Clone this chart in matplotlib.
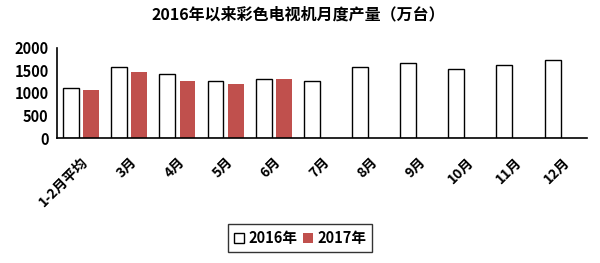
import numpy as np
import matplotlib
matplotlib.use('Agg')
import matplotlib.pyplot as plt

plt.rcParams['font.family'] = ['Noto Sans CJK SC', 'DejaVu Sans']

months = ['1-2月平均', '3月', '4月', '5月', '6月', '7月', '8月', '9月', '10月', '11月', '12月']
y2016 = [1100, 1565, 1415, 1260, 1320, 1275, 1565, 1675, 1540, 1630, 1720]
y2017 = [1060, 1460, 1260, 1195, 1305]
yticks = [0, 500, 1000, 1500, 2000]

fig = plt.figure(figsize=(6, 2.63), dpi=100)
ax = fig.add_axes([0.095, 0.475, 0.883, 0.343])

x = np.arange(len(months))
w = 0.33
ax.bar(x - 0.21, y2016, w, color='white', edgecolor='black', linewidth=1, label='2016年')
ax.bar(x[:len(y2017)] + 0.21, y2017, w, color='#C0504D', label='2017年')

ax.set_xlim(-0.5, len(months) - 0.5)
ax.set_ylim(0, 2000)
ax.set_yticks(yticks)
ax.set_yticklabels([str(v) for v in yticks], fontsize=10.5, fontweight='bold')
ax.set_xticks(x)
ax.set_xticklabels(months, rotation=45, ha='right', rotation_mode='anchor',
                   fontsize=10, fontweight='bold')
ax.tick_params(axis='both', length=0)
ax.tick_params(axis='x', pad=12)
ax.tick_params(axis='y', pad=6)
for s in ['top', 'right']:
    ax.spines[s].set_visible(False)
for s in ['left', 'bottom']:
    ax.spines[s].set_linewidth(1.2)

fig.suptitle('2016年以来彩色电视机月度产量（万台）', fontsize=11.5, fontweight='bold', x=0.497, y=0.975)

fig.legend(loc='center', bbox_to_anchor=(0.5, 0.095), ncol=2, frameon=True,
           fancybox=False, edgecolor='black',
           prop={'weight': 'bold', 'size': 10.5},
           handlelength=0.7, handleheight=0.7, handletextpad=0.3, columnspacing=0.4,
           borderpad=0.4)

fig.savefig('out.png', dpi=100)
